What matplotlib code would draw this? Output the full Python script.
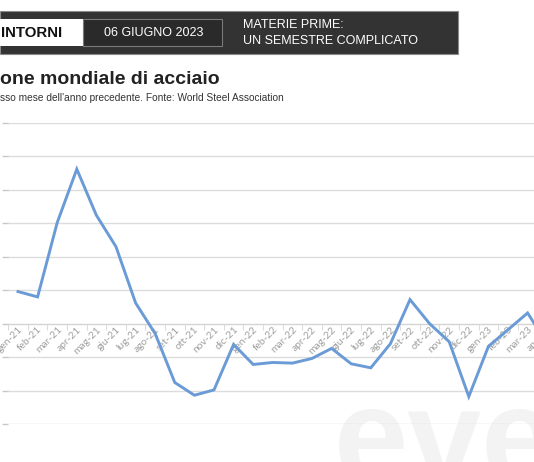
import numpy as np
import matplotlib.pyplot as plt
from matplotlib.patches import Rectangle

# ==============================
# dati: produzione mondiale di acciaio, var. % sullo stesso mese anno prec.
# ==============================
mesi = ['gen-21', 'feb-21', 'mar-21', 'apr-21', 'mag-21', 'giu-21', 'lug-21',
        'ago-21', 'set-21', 'ott-21', 'nov-21', 'dic-21',
        'gen-22', 'feb-22', 'mar-22', 'apr-22', 'mag-22', 'giu-22', 'lug-22',
        'ago-22', 'set-22', 'ott-22', 'nov-22', 'dic-22',
        'gen-23', 'feb-23', 'mar-23', 'apr-23']
variazione = [4.8, 4.0, 15.1, 23.1, 16.2, 11.5, 3.1, -1.5, -8.8, -10.7, -9.9, -3.1,
              -6.1, -5.8, -5.9, -5.2, -3.7, -6.0, -6.6, -3.0, 3.6, 0.0, -2.7, -10.9,
              -3.4, -0.9, 1.6, -3.0]
y_ticks = [-15, -10, -5, 0, 5, 10, 15, 20, 25, 30]

W, H = 534, 462
fig = plt.figure(figsize=(W / 100, H / 100), dpi=100)
fig.patch.set_facecolor('white')

def px(x0, y0, x1, y1):
    # rettangolo in pixel (origine in alto a sinistra) -> coordinate figura
    return [x0 / W, 1 - y1 / H, (x1 - x0) / W, (y1 - y0) / H]

# ==============================
# grafico
# ==============================
ax = fig.add_axes(px(8.2, 123, 8.2 + 28 * 19.6, 424))
ax.set_facecolor('none')
x = np.arange(len(mesi))
ax.plot(x, variazione, color='#6a9bd6', lw=2.1, solid_joinstyle='miter', zorder=3)

ax.set_xlim(-0.5, len(mesi) - 0.5)
ax.set_ylim(min(y_ticks), max(y_ticks))
ax.set_yticks(y_ticks)
ax.set_yticklabels([])   # etichette fuori dall'inquadratura nell'originale
ax.tick_params(axis='y', length=4, width=1, color='#c8c8c8', pad=0)
ax.grid(axis='y', color='#dcdcdc', lw=1)
ax.set_axisbelow(True)

for s in ['top', 'right', 'left']:
    ax.spines[s].set_visible(False)
ax.spines['bottom'].set_position(('data', 0))
ax.spines['bottom'].set_color('#d4d4d4')

ax.set_xticks(x)
ax.set_xticklabels(mesi, rotation=45, ha='right', rotation_mode='anchor',
                   fontsize=7.4, color='#a0a0a0', family='Lato')
ax.set_xticks(np.arange(-0.5, len(mesi), 1), minor=True)
ax.tick_params(axis='x', which='major', length=0, pad=1)
ax.tick_params(axis='x', which='minor', length=4, color='#d4d4d4')

# ==============================
# intestazione
# ==============================
fig.add_artist(Rectangle(px(0, 11, 458, 54)[:2], *px(0, 11, 458, 54)[2:],
                         transform=fig.transFigure, facecolor='#333333',
                         edgecolor='#8a8a8a', lw=0.8))
fig.add_artist(Rectangle(px(0, 19, 83, 46)[:2], *px(0, 19, 83, 46)[2:],
                         transform=fig.transFigure, facecolor='white', lw=0))
fig.add_artist(Rectangle(px(83, 19, 222, 46)[:2], *px(83, 19, 222, 46)[2:],
                         transform=fig.transFigure, facecolor='#2a2a2a',
                         edgecolor='#7a7a7a', lw=0.8))

fig.text(1 / W, 1 - 33 / H, 'INTORNI', fontsize=10.8, fontweight='bold',
         color='#111111', va='center', family='Liberation Sans')
fig.text(154 / W, 1 - 33 / H, '06 GIUGNO 2023', fontsize=9, color='white',
         va='center', ha='center', family='Liberation Sans')
fig.text(243 / W, 1 - 25 / H, 'MATERIE PRIME:', fontsize=9, color='white',
         va='center', family='Liberation Sans')
fig.text(243 / W, 1 - 41 / H, 'UN SEMESTRE COMPLICATO', fontsize=9,
         color='white', va='center', family='Liberation Sans')

fig.text(0, 1 - 79 / H, 'one mondiale di acciaio', fontsize=14, fontweight='bold',
         color='#222222', va='center', family='Liberation Sans')
fig.text(0, 1 - 98 / H,
         "sso mese dell'anno precedente. Fonte: World Steel Association",
         fontsize=7.3, color='#333333', va='center', family='Liberation Sans')

# logo in filigrana
fig.text(334 / W, 1 - 482 / H, 'eve', fontsize=96, fontweight='bold',
         color='#f3f3f3', va='baseline', family='Liberation Sans', zorder=-1)

fig.savefig('out.png', dpi=100)
